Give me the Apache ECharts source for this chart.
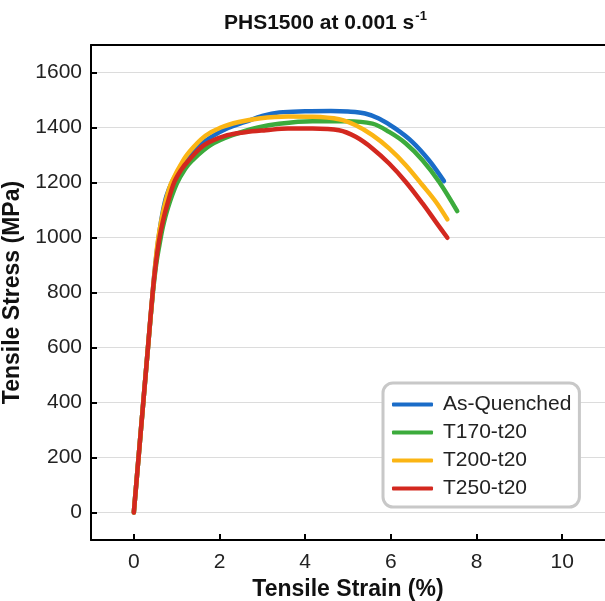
<!DOCTYPE html>
<html>
<head>
<meta charset="utf-8">
<script src="https://cdn.jsdelivr.net/npm/echarts@6/dist/echarts.min.js"></script>
<style>
  html, body { margin: 0; padding: 0; background: #fff; }
  #chart { width: 605px; height: 601px; }
</style>
</head>
<body>
<div id="chart"></div>
<script>
// Engineering stress-strain curves, PHS1500 tested at 0.001 1/s
const seriesNames = ['As-Quenched', 'T170-t20', 'T200-t20', 'T250-t20'];

// [strain (%), stress (MPa)]
const asQuenched = [
  [0, 0], [0.11, 200], [0.22, 400], [0.33, 600], [0.44, 800], [0.5, 900],
  [0.57, 990], [0.66, 1080], [0.76, 1150], [0.9, 1205], [1.05, 1245],
  [1.2, 1275], [1.5, 1330], [1.8, 1365], [2.2, 1398], [2.6, 1420],
  [3.0, 1442], [3.4, 1455], [4.0, 1459], [4.6, 1460], [5.0, 1458],
  [5.4, 1451], [5.72, 1433], [6.11, 1396], [6.5, 1348], [6.89, 1281],
  [7.24, 1205]
];
const t170 = [
  [0, 0], [0.11, 200], [0.22, 400], [0.33, 600], [0.44, 790], [0.52, 900],
  [0.6, 975], [0.68, 1040], [0.8, 1110], [1.0, 1195], [1.2, 1250],
  [1.36, 1280], [1.79, 1336], [2.3, 1372], [2.9, 1400], [3.39, 1414],
  [4.17, 1423], [4.95, 1423], [5.57, 1414], [5.96, 1384], [6.35, 1342],
  [6.74, 1281], [7.13, 1202], [7.55, 1096]
];
const t200 = [
  [0, 0], [0.11, 200], [0.22, 400], [0.33, 600], [0.44, 800], [0.5, 900],
  [0.56, 985], [0.64, 1060], [0.74, 1130], [0.88, 1200], [1.17, 1285],
  [1.4, 1330], [1.67, 1370], [2.03, 1400], [2.45, 1420], [2.92, 1433],
  [3.6, 1440], [4.17, 1439], [4.79, 1430], [5.18, 1408], [5.57, 1372],
  [5.96, 1324], [6.35, 1263], [6.74, 1190], [7.05, 1130], [7.32, 1066]
];
const t250 = [
  [0, 0], [0.11, 200], [0.22, 400], [0.33, 600], [0.44, 800], [0.51, 900],
  [0.59, 990], [0.68, 1060], [0.78, 1120], [0.94, 1200], [1.1, 1245],
  [1.25, 1275], [1.64, 1336], [2.18, 1372], [2.6, 1383], [3.08, 1390],
  [3.6, 1396], [4.17, 1396], [4.79, 1390], [5.18, 1366], [5.57, 1324],
  [5.96, 1269], [6.35, 1202], [6.74, 1124], [7.05, 1057], [7.32, 999]
];

const curveColors = ['#1a6cc8', '#3cab3c', '#fbb514', '#d3281f'];
const curveData = [asQuenched, t170, t200, t250];

const FONT = '"Liberation Sans", Arial, sans-serif';

const chart = echarts.init(document.getElementById('chart'), null, { renderer: 'canvas' });

const axisLineStyle = { show: true, onZero: false, lineStyle: { color: '#000', width: 2 } };
const plainNumber = v => String(v);

chart.setOption({
  animation: false,
  backgroundColor: '#fff',
  title: {
    text: 'PHS1500 at 0.001 s{sup|-1}',
    left: 224,
    top: 10,
    padding: 0,
    textStyle: {
      fontFamily: FONT,
      fontSize: 21,
      fontWeight: 'bold',
      color: '#111',
      lineHeight: 26,
      rich: {
        sup: {
          fontFamily: FONT,
          fontSize: 13,
          fontWeight: 'bold',
          color: '#111',
          verticalAlign: 'top',
          lineHeight: 26,
          padding: [0, 0, 7, 1]
        }
      }
    }
  },
  legend: {
    orient: 'vertical',
    left: 383,
    top: 383,
    padding: [11, 8, 8, 9],
    itemGap: 7,
    itemWidth: 41,
    itemHeight: 4,
    icon: 'roundRect',
    borderColor: '#c8c8c8',
    borderWidth: 3,
    borderRadius: 10,
    backgroundColor: '#fff',
    textStyle: {
      fontFamily: FONT,
      fontSize: 21,
      color: '#222',
      lineHeight: 21,
      padding: [0, 0, 0, 5]
    },
    data: seriesNames
  },
  grid: {
    left: 91,
    right: 0,
    top: 45,
    bottom: 61,
    containLabel: false,
    outerBoundsMode: 'none'
  },
  xAxis: [
    {
      type: 'value',
      min: -1,
      max: 11,
      splitNumber: 6,
      name: 'Tensile Strain (%)',
      nameLocation: 'middle',
      nameGap: 36,
      nameTextStyle: { fontFamily: FONT, fontSize: 23, fontWeight: 'bold', color: '#111' },
      axisLine: axisLineStyle,
      axisTick: { show: true, inside: true, length: 6, lineStyle: { color: '#000', width: 2 } },
      axisLabel: {
        showMinLabel: false,
        showMaxLabel: false,
        margin: 12,
        fontFamily: FONT,
        fontSize: 21,
        color: '#222',
        formatter: plainNumber
      },
      splitLine: { show: false }
    },
    {
      type: 'value',
      position: 'top',
      min: -1,
      max: 11,
      axisLine: axisLineStyle,
      axisTick: { show: false },
      axisLabel: { show: false },
      splitLine: { show: false }
    }
  ],
  yAxis: {
    type: 'value',
    min: -100,
    max: 1700,
    splitNumber: 9,
    name: 'Tensile Stress (MPa)',
    nameLocation: 'middle',
    nameGap: 65,
    nameTextStyle: { fontFamily: FONT, fontSize: 23, fontWeight: 'bold', color: '#111' },
    axisLine: axisLineStyle,
    axisTick: { show: true, inside: true, length: 6, lineStyle: { color: '#000', width: 2 } },
    axisLabel: {
      showMinLabel: false,
      showMaxLabel: false,
      margin: 9,
      fontFamily: FONT,
      fontSize: 21,
      color: '#222',
      formatter: plainNumber
    },
    splitLine: { show: true, lineStyle: { color: '#dcdcdc', width: 1 } }
  },
  series: seriesNames.map((name, i) => ({
    name: name,
    type: 'line',
    xAxisIndex: 0,
    data: curveData[i],
    smooth: 0.35,
    symbol: 'none',
    color: curveColors[i],
    lineStyle: { width: 4.5, color: curveColors[i], cap: 'round', join: 'round' },
    z: 2 + i
  }))
});
</script>
</body>
</html>
